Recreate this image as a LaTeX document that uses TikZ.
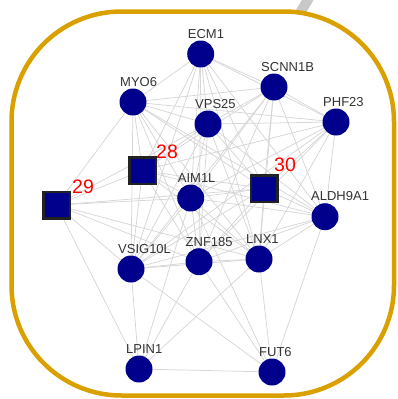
\documentclass[tikz,border=0pt]{standalone}
\usepackage{fontspec}
\usetikzlibrary{backgrounds}
\newfontfamily\labfont{Liberation Sans}
\definecolor{boxorange}{RGB}{218,160,0}
\definecolor{nodeblue}{RGB}{0,0,140}
\definecolor{edgegray}{RGB}{214,214,214}
\definecolor{labgray}{RGB}{51,51,51}
\definecolor{sqborder}{RGB}{34,34,34}
\definecolor{stubgray}{RGB}{200,200,200}
\begin{document}
\begin{tikzpicture}[x=1pt,y=-1pt,
  gene/.style={circle,fill=nodeblue,minimum size=27pt,inner sep=0pt},
  sq/.style={rectangle,fill=nodeblue,draw=sqborder,line width=2.5pt,minimum size=26.5pt,inner sep=0pt},
  glabel/.style={anchor=base west,inner sep=0pt,text=labgray,font=\labfont\fontsize{13}{13}\selectfont},
  nlabel/.style={anchor=base west,inner sep=0pt,text=red,font=\labfont\fontsize{19.5}{19.5}\selectfont},
  edge/.style={draw=edgegray,line width=0.75pt}]
\useasboundingbox (0,0) rectangle (398,399);
% nodes
\node[gene] (E) at (200.7,54) {};
\node[gene] (M) at (133,102) {};
\node[gene] (S) at (274,87) {};
\node[gene] (V) at (208,124) {};
\node[gene] (P) at (336,122) {};
\node[gene] (A) at (190.7,198) {};
\node[gene] (AL) at (325,216.7) {};
\node[gene] (VS) at (131,269) {};
\node[gene] (Z) at (199,261.7) {};
\node[gene] (L) at (259,259) {};
\node[gene] (LP) at (139,369) {};
\node[gene] (F) at (272,372) {};
\node[sq] (Q28) at (142.5,170.5) {};
\node[sq] (Q29) at (56.5,205) {};
\node[sq] (Q30) at (264,188.5) {};
% labels
\node[glabel] (tE) at (187.7,38.5) {ECM1};
\node[glabel] (tM) at (120,86) {MYO6};
\node[glabel] (tS) at (261,71) {SCNN1B};
\node[glabel] (tV) at (195,108) {VPS25};
\node[glabel] (tP) at (323,106) {PHF23};
\node[glabel] (tA) at (177.7,182) {AIM1L};
\node[glabel] (tAL) at (311,200) {ALDH9A1};
\node[glabel] (tVS) at (118,253) {VSIG10L};
\node[glabel] (tZ) at (185.5,246) {ZNF185};
\node[glabel] (tL) at (246,243) {LNX1};
\node[glabel] (tLP) at (126,353) {LPIN1};
\node[glabel] (tF) at (259,356) {FUT6};
\node[nlabel] (n28) at (156,158) {28};
\node[nlabel] (n29) at (72,193) {29};
\node[nlabel] (n30) at (274,171) {30};
\begin{scope}[on background layer]
% stub leaving the box
\coordinate (stubA) at (300.5,12);
\coordinate (stubB) at (309,-2);
\draw[stubgray,line width=10pt] (stubA) -- (stubB);
% container
\draw[boxorange,line width=4.5pt,rounded corners=110pt] (11.5,11.5) rectangle (394,395.5);
% edges
\foreach \a/\b in {E/M,E/V,E/S,E/P,E/Q28,E/Q30,E/A,E/Z,E/L,E/AL,E/VS,
  M/V,M/S,M/Q28,M/Q29,M/A,M/Z,M/Q30,M/L,M/VS,M/AL,M/P,
  S/V,S/P,S/Q28,S/Q30,S/A,S/Z,S/L,S/AL,S/VS,
  V/P,V/Q28,V/Q29,V/Q30,V/A,V/Z,V/L,V/AL,V/VS,
  P/Q28,P/Q30,P/A,P/Z,P/L,P/AL,P/VS,
  Q28/Q29,Q28/Q30,Q28/A,Q28/Z,Q28/L,Q28/AL,Q28/VS,
  Q29/A,Q29/Q30,Q29/Z,Q29/VS,Q29/LP,Q29/L,
  Q30/A,Q30/Z,Q30/L,Q30/AL,Q30/VS,
  A/Z,A/L,A/AL,A/VS,A/F,A/LP,
  AL/Z,AL/L,AL/VS,AL/F,
  VS/Z,VS/L,VS/LP,VS/F,
  Z/L,Z/LP,Z/F,
  L/F,L/LP,
  LP/F}
  \draw[edge] (\a) -- (\b);
\end{scope}
\end{tikzpicture}
\end{document}
